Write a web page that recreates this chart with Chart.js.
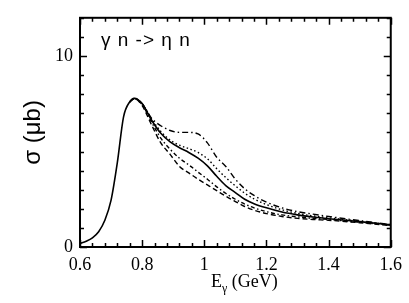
<!DOCTYPE html>
<html>
<head>
<meta charset="utf-8">
<script src="https://cdn.jsdelivr.net/npm/chart.js@4"></script>
<style>
html,body{margin:0;padding:0;background:#fff;}
canvas{display:block;}
</style>
</head>
<body>
<canvas id="c" width="409" height="303"></canvas>
<script>
const energy = [0.60,0.62,0.64,0.66,0.68,0.70,0.72,0.74,0.76,0.775,0.80,0.83,0.86,0.89,0.92,0.95,0.98,1.01,1.04,1.07,1.10,1.13,1.16,1.20,1.25,1.30,1.35,1.40,1.50,1.60];
const solid   = [0.18,0.30,0.48,0.80,1.40,2.45,4.40,6.80,7.60,7.78,7.50,6.65,5.95,5.50,5.20,4.95,4.65,4.25,3.70,3.20,2.85,2.50,2.27,2.05,1.83,1.68,1.57,1.48,1.33,1.16];
const dashDot = [null,null,null,null,null,null,null,null,7.60,7.78,7.52,6.75,6.35,6.10,6.00,6.00,5.92,5.45,4.70,4.20,3.55,3.05,2.70,2.35,2.05,1.85,1.72,1.60,1.38,1.17];
const dotted  = [null,null,null,null,null,null,null,null,7.60,7.78,7.50,6.72,6.05,5.60,5.33,5.15,4.95,4.62,4.10,3.62,3.20,2.82,2.52,2.22,1.95,1.76,1.63,1.53,1.35,1.16];
const dashDot2= [null,null,null,null,null,null,null,null,7.60,7.76,7.45,6.55,5.70,5.12,4.65,4.30,3.92,3.55,3.15,2.80,2.50,2.25,2.05,1.85,1.68,1.58,1.50,1.44,1.30,1.14];
const dashed  = [null,null,null,null,null,null,null,null,7.60,7.76,7.40,6.40,5.45,4.85,4.22,3.88,3.55,3.25,2.95,2.65,2.38,2.12,1.93,1.75,1.60,1.50,1.44,1.40,1.27,1.12];

const xMajorTicks = [0.6,0.8,1.0,1.2,1.4,1.6];
const xMinorStep = 0.04;
const yMajorTicks = [0,10];
const yMinorStep = 1;
const xMin = 0.6, xMax = 1.6, yMin = 0, yMax = 12;

const SERIF = 'Liberation Serif, Times New Roman, serif';
const SANS = 'Liberation Sans, Arial, sans-serif';
Chart.defaults.font.family = SERIF;
Chart.defaults.color = '#000';

const toPts = arr => energy.map((e,i) => ({x:e, y:arr[i]}));

const frame = {
  id:'frame',
  afterDraw(chart){
    const ctx = chart.ctx, a = chart.chartArea;
    const xs = chart.scales.x, ys = chart.scales.y;
    ctx.save();
    ctx.strokeStyle = '#000';
    ctx.lineWidth = 1.5;
    const nx = Math.round((xMax - xMin)/xMinorStep);
    for(let i=0;i<=nx;i++){
      const v = xMin + i*xMinorStep;
      const major = xMajorTicks.some(t => Math.abs(t-v)<1e-6);
      const len = major ? 7 : 4;
      const px = Math.round(xs.getPixelForValue(v)) + 0.5;
      ctx.beginPath();
      ctx.moveTo(px, a.bottom); ctx.lineTo(px, a.bottom - len);
      ctx.moveTo(px, a.top); ctx.lineTo(px, a.top + len);
      ctx.stroke();
    }
    const ny = Math.round((yMax - yMin)/yMinorStep);
    for(let i=0;i<=ny;i++){
      const v = yMin + i*yMinorStep;
      const major = yMajorTicks.some(t => Math.abs(t-v)<1e-6);
      const len = major ? 7 : 4;
      const py = Math.round(ys.getPixelForValue(v)) + 0.5;
      ctx.beginPath();
      ctx.moveTo(a.left, py); ctx.lineTo(a.left + len, py);
      ctx.moveTo(a.right, py); ctx.lineTo(a.right - len, py);
      ctx.stroke();
    }
    ctx.lineWidth = 2;
    ctx.strokeRect(a.left, a.top, a.right - a.left, a.bottom - a.top);
    // reaction label
    ctx.fillStyle = '#000';
    ctx.font = '19px ' + SANS;
    ctx.textAlign = 'left';
    ctx.textBaseline = 'alphabetic';
    if ('letterSpacing' in ctx) ctx.letterSpacing = '1px';
    ctx.fillText('\u03b3 n -> \u03b7 n', a.left + 21, a.top + 28);
    if ('letterSpacing' in ctx) ctx.letterSpacing = '0px';
    // y title
    ctx.save();
    ctx.translate(a.left - 47, (a.top + a.bottom)/2);
    ctx.rotate(-Math.PI/2);
    ctx.textAlign = 'center';
    ctx.textBaseline = 'middle';
    ctx.font = '24px ' + SANS;
    ctx.fillText('\u03c3 (\u03bcb)', 0, 0);
    ctx.restore();
    // x title
    ctx.font = '18px ' + SERIF;
    const base = 287;
    let x0 = 211;
    ctx.fillText('E', x0, base);
    x0 += ctx.measureText('E').width;
    ctx.font = '12px ' + SERIF;
    ctx.fillText('\u03b3', x0, base + 5);
    x0 += ctx.measureText('\u03b3').width;
    ctx.font = '18px ' + SERIF;
    ctx.fillText(' (GeV)', x0, base);
    ctx.restore();
  }
};

const common = {pointRadius:0, borderColor:'#000', borderWidth:1.4, fill:false, cubicInterpolationMode:'monotone', spanGaps:false};

new Chart(document.getElementById('c'), {
  type:'line',
  data:{
    datasets:[
      Object.assign({label:'solid', data:toPts(solid), borderDash:[]}, common, {borderWidth:1.6}),
      Object.assign({label:'dash-dot', data:toPts(dashDot), borderDash:[6,3,1.5,3]}, common),
      Object.assign({label:'dotted', data:toPts(dotted), borderDash:[1.5,2.5]}, common),
      Object.assign({label:'dash-dot 2', data:toPts(dashDot2), borderDash:[4,2.5,1.5,2.5]}, common),
      Object.assign({label:'dashed', data:toPts(dashed), borderDash:[5,3]}, common)
    ]
  },
  options:{
    responsive:false,
    animation:false,
    devicePixelRatio:1,
    layout:{padding:{top:3,right:14,left:0,bottom:0}},
    plugins:{legend:{display:false}, tooltip:{enabled:false}},
    scales:{
      x:{
        type:'linear', min:xMin, max:xMax,
        grid:{display:false, drawTicks:false}, border:{display:false},
        ticks:{color:'#000', padding:7, maxRotation:0, autoSkip:false,
          font:{family:SERIF, size:18},
          callback:v => String(+v.toFixed(1))},
        afterBuildTicks:s => { s.ticks = xMajorTicks.map(v => ({value:v})); },
        afterFit:s => { s.height = 56; }
      },
      y:{
        type:'linear', min:yMin, max:yMax,
        grid:{display:false, drawTicks:false}, border:{display:false},
        ticks:{color:'#000', padding:7, autoSkip:false,
          font:{family:SERIF, size:18},
          callback:v => String(v)},
        afterBuildTicks:s => { s.ticks = yMajorTicks.map(v => ({value:v})); },
        afterFit:s => { s.width = 80; }
      }
    }
  },
  plugins:[frame]
});
</script>
</body>
</html>
